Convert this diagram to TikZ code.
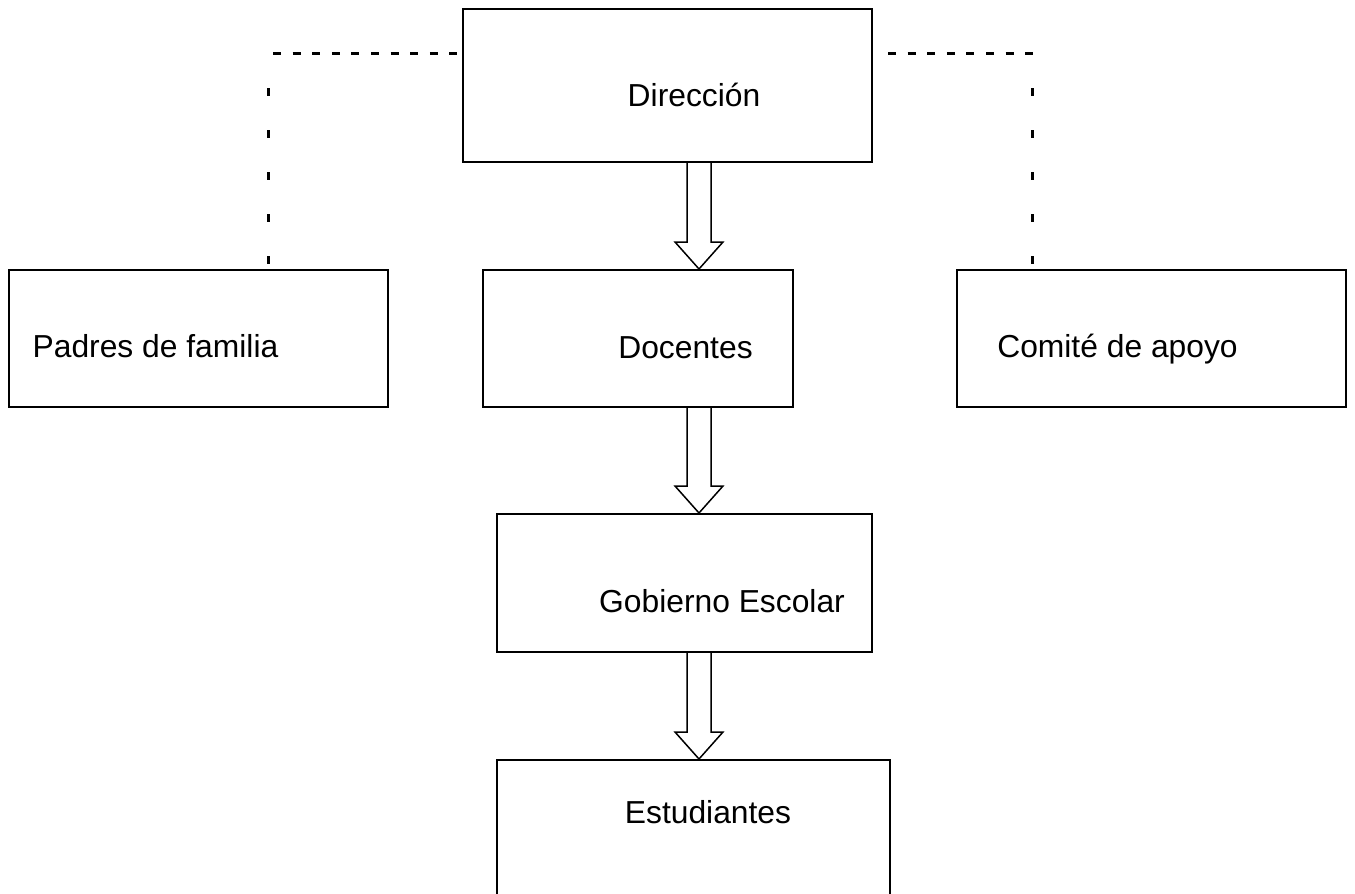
\documentclass[tikz,border=0pt]{standalone}
\usepackage{fontspec}
\setmainfont{Liberation Sans}
\usetikzlibrary{calc}

\tikzset{
  caja/.style={draw, line width=1pt, inner sep=0pt},
  texto/.style={anchor=base, inner sep=0pt, font=\fontsize{15.9}{18}\selectfont},
  flecha/.style={line width=0.75pt, line join=miter},
  rayah/.style={line width=1.5pt, dash pattern=on 4pt off 5.8pt},
  rayav/.style={line width=1.5pt, dash pattern=on 4pt off 17pt},
}

\begin{document}
\begin{tikzpicture}[x=0.5pt, y=-0.5pt]
	\useasboundingbox (0,0) rectangle (1355,894);
	\clip (0,0) rectangle (1355,894);
	\fill[white] (0,0) rectangle (1355,894);
	% cajas
	\node[caja, minimum width=204.5pt, minimum height=76.5pt] (dir) at (667.5,85.5) {};
	\node[caja, minimum width=189.5pt, minimum height=68.5pt] (pad) at (198.5,338.5) {};
	\node[caja, minimum width=155pt, minimum height=68.5pt] (doc) at (638,338.5) {};
	\node[caja, minimum width=194.5pt, minimum height=68.5pt] (com) at (1151.5,338.5) {};
	\node[caja, minimum width=187.5pt, minimum height=69pt] (gob) at (684.5,583) {};
	\node[caja, minimum width=196.5pt, minimum height=85pt] (est) at (693.5,845) {};
	% textos
	\node[texto] (tdir) at (694,106) {Dirección};
	\node[texto] (tpad) at (155.5,357) {Padres de familia};
	\node[texto] (tdoc) at (685.5,358) {Docentes};
	\node[texto] (tcom) at (1117.5,357) {Comité de apoyo};
	\node[texto] (tgob) at (722,612) {Gobierno Escolar};
	\node[texto] (test) at (708,823) {Estudiantes};
	% flechas huecas
	\coordinate (eje) at (699,0);
	\foreach \de/\a in {dir/doc, doc/gob, gob/est} {
		\coordinate (s) at (eje |- \de.south);
		\coordinate (t) at (eje |- \a.north);
		\draw[flecha] ($(s)+(-12,0)$) -- ($(t)+(-12,-27)$) -- ($(t)+(-24,-27)$) -- (t)
			-- ($(t)+(24,-27)$) -- ($(t)+(12,-27)$) -- ($(s)+(12,0)$);
	}
	% lineas punteadas
	\coordinate (izq) at (268,53);
	\coordinate (der) at (1032,53);
	\draw[rayah] ($(izq)+(5,0)$) -- ($(izq -| dir.west)+(-5,0)$);
	\draw[rayav] ($(izq)+(0,35)$) -- ($(izq |- pad.north)+(0,-5)$);
	\draw[rayah] ($(der -| dir.east)+(15,0)$) -- ($(der)+(1,0)$);
	\draw[rayav] ($(der)+(0,35)$) -- ($(der |- com.north)+(0,-5)$);
\end{tikzpicture}
\end{document}
